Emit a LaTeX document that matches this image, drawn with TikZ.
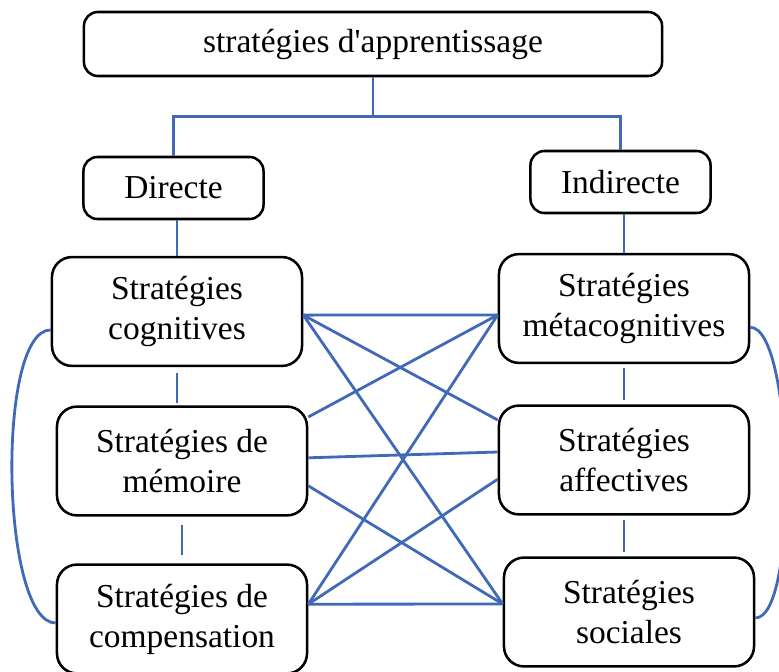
\documentclass[tikz,border=0pt]{standalone}
\usepackage{fontspec}
\setmainfont{Liberation Serif}
\usepackage{tikz}
\usetikzlibrary{positioning}
\definecolor{lienbleu}{RGB}{64,106,184}
\tikzstyle{boite} = [draw, line width=1.8pt, rounded corners=0.35cm, align=center, inner sep=0pt, font=\fontsize{23.8}{28.5}\selectfont]
\tikzstyle{petite} = [boite, minimum width=4.5cm, minimum height=1.55cm]
\tikzstyle{grande} = [boite, rounded corners=0.5cm, minimum width=6.25cm, minimum height=2.72cm]
\tikzstyle{lien} = [draw, lienbleu, line width=2pt]

\begin{document}
\begin{tikzpicture}[x=0.025cm, y=-0.025cm]
		\useasboundingbox (0,0) rectangle (779,672);
		
		% Boite principale
		\node[boite, minimum width=14.45cm, minimum height=1.6cm] (strat) at (373,44) {strat\'egies d\textquotesingle apprentissage};
		
		% Deux familles
		\node[petite] (dir) at (173.5,188) {Directe};
		\node[petite] (ind) at (620.5,182) {Indirecte};
		
		% Strategies directes
		\node[grande] (cog) at (177,311.5) {Strat\'egies\\cognitives};
		\node[grande] (mem) at (182,461) {Strat\'egies de\\m\'emoire};
		\node[grande] (comp) at (182,619) {Strat\'egies de\\compensation};
		
		% Strategies indirectes
		\node[grande] (meta) at (624,308.5) {Strat\'egies\\m\'etacognitives};
		\node[grande] (aff) at (624,460) {Strat\'egies\\affectives};
		\node[grande] (soc) at (629,612) {Strat\'egies\\sociales};
		
		% Arbre du haut
		\draw[lien] (strat.south) -- ++(0,39) coordinate (fourche);
		\draw[lien] (dir.north) |- (fourche) -| (ind.north);
		\draw[lien] (cog.north |- dir.south) -- (cog.north);
		\draw[lien] (meta.north |- ind.south) -- (meta.north);
		
		% Liens verticaux
		\draw[lien, shorten <=4pt, shorten >=2pt] (cog.south) -- (cog.south |- mem.north);
		\draw[lien, shorten <=6pt, shorten >=6pt] (mem.south) -- (comp.north);
		\draw[lien, shorten <=3pt, shorten >=3pt] (meta.south) -- (aff.north);
		\draw[lien, shorten <=3pt, shorten >=3pt] (aff.south) -- (aff.south |- soc.north);
		
		% Points d'attache des liens croises
		\coordinate (cogD) at ([yshift=-0.09cm]cog.east);
		\coordinate (memD1) at ([yshift=1.1cm]mem.east);
		\coordinate (memD2) at ([yshift=0.08cm]mem.east);
		\coordinate (memD3) at ([yshift=-0.62cm]mem.east);
		\coordinate (compD) at ([yshift=0.37cm]comp.east);
		\coordinate (metaG) at ([yshift=-0.16cm]meta.west);
		\coordinate (affG1) at ([yshift=1cm]aff.west);
		\coordinate (affG2) at ([yshift=0.2cm]aff.west);
		\coordinate (affG3) at ([yshift=-0.48cm]aff.west);
		\coordinate (socG) at ([yshift=0.2cm]soc.west);
		
		% Liens croises
		\draw[lien] (cogD) -- (metaG);
		\draw[lien] (cogD) -- (affG1);
		\draw[lien] (cogD) -- (socG);
		\draw[lien] (memD1) -- (metaG);
		\draw[lien] (memD2) -- (affG2);
		\draw[lien] (memD3) -- (socG);
		\draw[lien] (compD) -- (metaG);
		\draw[lien] (compD) -- (affG3);
		\draw[lien] (compD) -- (socG);
		
		% Arcs lateraux
		\draw[lien] ([yshift=-0.46cm]cog.west) .. controls +(-55,0) and +(-55,0) .. ([yshift=-0.1cm]comp.west);
		\draw[lien] ([yshift=-0.47cm]meta.east) .. controls +(44,0) and +(44,0) .. ([yshift=-0.15cm]soc.east);
\end{tikzpicture}
\end{document}
